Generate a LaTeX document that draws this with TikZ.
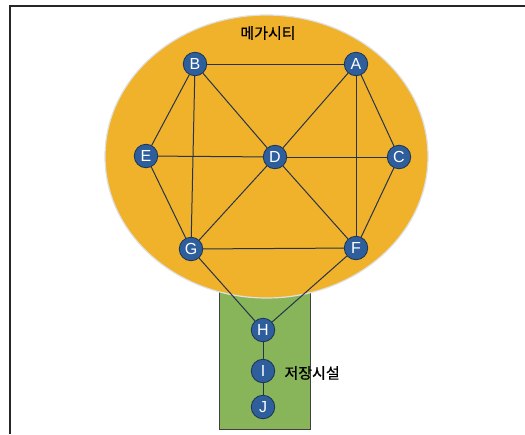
\documentclass[tikz,border=0pt]{standalone}
\usepackage{fontspec}
\setmainfont{Liberation Sans}
\newfontfamily\krfont[FakeBold=0.8]{Noto Sans CJK KR}
\definecolor{megaorange}{HTML}{F0B22B}
\definecolor{storegreen}{HTML}{88B45A}
\definecolor{nodeblue}{HTML}{2E5E9C}
\definecolor{nodeedge}{HTML}{1C3455}
\definecolor{edgecol}{HTML}{26334A}
\begin{document}
\begin{tikzpicture}[x=1pt,y=-1pt,
  vtx/.style={circle,fill=nodeblue,draw=nodeedge,line width=0.8pt,minimum size=23.5pt,inner sep=0pt,text=white,font=\fontsize{16}{16}\selectfont},
  link/.style={draw=edgecol,line width=1pt},
  krlabel/.style={font=\krfont\fontsize{15}{15}\selectfont,text=black}]
\useasboundingbox (0,0) rectangle (525,434);
\fill[white] (0,0) rectangle (525,434);
\draw[line width=1.5pt,black!85] (10,434) -- (10,6) -- (525,6);
% storage rectangle
\node[draw=black!75,fill=storegreen,line width=0.9pt,minimum width=91pt,minimum height=140pt,inner sep=0pt,anchor=north west] (store) at (219,289) {};
% megacity ellipse
\fill[megaorange,draw=black!12,line width=1.2pt] (266.5,156.5) ellipse [x radius=161.5pt,y radius=141.5pt];
\node[krlabel] (title) at (268,33) {메가시티};
% nodes
\node[vtx] (B) at (195,64) {B};
\node[vtx] (A) at (356,64) {A};
\node[vtx] (E) at (146,156) {E};
\node[vtx] (D) at (275,157) {D};
\node[vtx] (C) at (399,157) {C};
\node[vtx] (G) at (191,249) {G};
\node[vtx] (F) at (356,248) {F};
\node[vtx] (H) at (263,330) {H};
\node[vtx] (I) at (263,371) {I};
\node[vtx] (J) at (263,407) {J};
\node[krlabel,anchor=west] (store label) at (281,373) {저장시설};
% edges
\foreach \a/\b in {B/A,B/E,B/G,B/D,A/D,A/F,A/C,E/D,D/C,E/G,G/D,D/F,C/F,G/F,G/H,F/H,H/I,I/J}
  \draw[link] (\a) -- (\b);
\end{tikzpicture}
\end{document}
